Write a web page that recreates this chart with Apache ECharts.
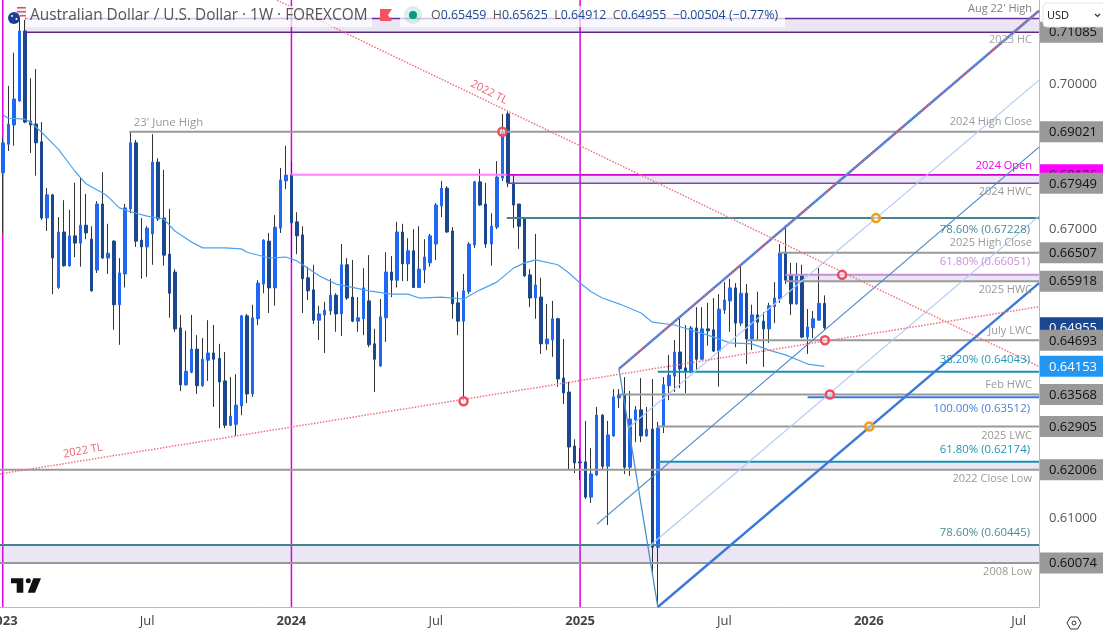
<!DOCTYPE html>
<html>
<head>
<meta charset="utf-8">
<title>AUD/USD weekly</title>
<script src="https://cdn.jsdelivr.net/npm/echarts@6/dist/echarts.min.js"></script>
<style>
  html, body { margin: 0; padding: 0; background: #fff; }
  #chart { width: 1103px; height: 631px; }
</style>
</head>
<body>
<div id="chart"></div>
<script>
// Weekly AUD/USD candles, one entry per week starting 2023-01-02.
const opens = [
  .6817,.6876,.6916,.6966,.7111,.6924,.6918,.6881,.6723,.6771,
  .6579,.6694,.6624,.6686,.6671,.6708,.6679,.6615,.6752,.6640,
  .6675,.6543,.6607,.6742,.6879,.6677,.6663,.6690,.6839,.6723,
  .6648,.6611,.6495,.6377,.6403,.6451,.6375,.6428,.6443,.6432,
  .6385,.6293,.6295,.6333,.6520,.6358,.6514,.6586,.6675,.6578,
  .6702,.6800,.6812,.6715,.6688,.6599,.6574,.6511,.6522,.6530,
  .6563,.6524,.6626,.6559,.6509,.6514,.6551,.6462,.6416,.6516,
  .6611,.6594,.6694,.6628,.6655,.6579,.6615,.6630,.6669,.6748,
  .6785,.6696,.6547,.6509,.6570,.6667,.6798,.6752,.6669,.6704,
  .6806,.6939,.6796,.6752,.6723,.6605,.6557,.6559,.6462,.6470,
  .6514,.6391,.6362,.6250,.6217,.6217,.6144,.6190,.6314,.6208,
  .6271,.6350,.6356,.6206,.6304,.6325,.6271,.6285,.6040,.6291,
  .6375,.6395,.6445,.6412,.6405,.6495,.6430,.6493,.6491,.6447,
  .6532,.6551,.6578,.6505,.6567,.6472,.6522,.6509,.6493,.6539,
  .6555,.6651,.6605,.6545,.6603,.6476,.6495,.6511,.65459
];
const closes = [
  .6879,.6918,.6970,.7111,.6922,.6916,.6879,.6723,.6771,.6640,
  .6694,.6624,.6686,.6671,.6708,.6692,.6572,.6752,.6640,.6650,
  .6543,.6609,.6744,.6879,.6675,.6663,.6702,.6839,.6721,.6646,
  .6567,.6493,.6377,.6405,.6451,.6375,.6430,.6443,.6430,.6383,
  .6293,.6312,.6335,.6520,.6358,.6516,.6588,.6677,.6578,.6704,
  .6802,.6812,.6713,.6686,.6597,.6572,.6511,.6524,.6532,.6563,
  .6524,.6626,.6557,.6509,.6516,.6578,.6460,.6430,.6518,.6611,
  .6594,.6694,.6628,.6655,.6579,.6617,.6642,.6686,.6750,.6785,
  .6694,.6545,.6509,.6572,.6669,.6798,.6750,.6669,.6706,.6808,
  .69021,.6796,.6750,.6706,.6603,.6557,.6584,.6462,.6472,.6514,
  .6389,.6360,.6248,.6215,.6215,.6144,.6192,.6314,.6208,.6273,
  .6352,.6356,.6206,.6306,.6325,.6271,.6285,.6040,.6287,.6377,
  .6397,.6445,.6410,.6405,.6495,.6430,.6493,.6489,.6447,.6534,
  .6553,.6578,.6505,.6567,.6472,.6522,.6507,.6493,.6541,.6557,
  .66507,.6594,.6545,.6603,.6476,.6497,.6514,.6546,.64955
];
const highs = [
  .6889,.6997,.7066,.7140,.7134,.7013,.7032,.6922,.6785,.6773,
  .6725,.6760,.6740,.6796,.6808,.6773,.6706,.6758,.6818,.6711,
  .6677,.6640,.6752,.6902,.6885,.6723,.6706,.6897,.6847,.6823,
  .6742,.6617,.6522,.6489,.6522,.6480,.6474,.6511,.6501,.6462,
  .6445,.6393,.6399,.6522,.6524,.6543,.6594,.6679,.6692,.6729,
  .6827,.6873,.6841,.6735,.6706,.6622,.6626,.6541,.6549,.6597,
  .6567,.6669,.6640,.6636,.6559,.6619,.6646,.6493,.6555,.6652,
  .6644,.6715,.6711,.6681,.6700,.6706,.6679,.6690,.6754,.6800,
  .6789,.6704,.6570,.6607,.6673,.6800,.6825,.6796,.6733,.6841,
  .6939,.6945,.6812,.6752,.6725,.6617,.6690,.6599,.6545,.6551,
  .6516,.6472,.6383,.6264,.6246,.6302,.6246,.6331,.6316,.6302,
  .6368,.6368,.6393,.6364,.6333,.6391,.6331,.6389,.6300,.6393,
  .6439,.6470,.6518,.6501,.6499,.6538,.6538,.6547,.6557,.6565,
  .6590,.6597,.6588,.6626,.6586,.6543,.6570,.6528,.6547,.6590,
  .6669,.6708,.6630,.6630,.6626,.6534,.6530,.6619,.65625
];
const lows = [
  .6692,.6862,.6873,.6964,.6920,.6858,.6811,.6719,.6696,.6565,
  .6576,.6622,.6622,.6642,.6622,.6679,.6570,.6609,.6638,.6607,
  .6491,.6460,.6579,.6733,.6663,.6597,.6601,.6626,.6717,.6624,
  .6516,.6487,.6364,.6375,.6401,.6358,.6373,.6385,.6331,.6287,
  .6287,.6291,.6271,.6314,.6339,.6352,.6501,.6567,.6526,.6541,
  .6692,.6783,.6630,.6648,.6526,.6553,.6503,.6470,.6443,.6522,
  .6487,.6478,.6553,.6507,.6487,.6480,.6455,.6362,.6414,.6466,
  .6559,.6579,.6592,.6592,.6578,.6578,.6588,.6622,.6636,.6725,
  .6692,.6514,.6480,.6345,.6565,.6661,.6748,.6661,.6624,.6700,
  .6800,.6787,.6702,.6659,.6601,.6538,.6514,.6441,.6449,.6435,
  .6373,.6337,.6202,.6194,.6179,.6140,.6132,.6188,.6200,.6086,
  .6269,.6329,.6192,.6188,.6258,.6258,.6269,.5986,.5917,.6277,
  .6345,.6362,.6370,.6360,.6401,.6408,.6428,.6458,.6445,.6373,
  .6524,.6487,.6455,.6499,.6420,.6449,.6470,.6414,.6464,.6505,
  .6547,.6586,.6522,.6543,.6474,.6441,.6474,.6511,.64912
];

// Moving average, sampled at the weeks where it changes direction.
const maWeeks = [0,1,4,5,7,10,13,15,18,19,21,23,26,29,31,34,36,40,43,44,48,51,53,57,60,63,66,70,73,75,79,83,86,89,92,94,96,100,102,104,106,108,111,115,116,117,121,127,131,135,138,141,145,148];
const maValues = [.6937,.6930,.6928,.6922,.6901,.6866,.6820,.6794,.6775,.6767,.6744,.6736,.6727,.6721,.6696,.6673,.6661,.6661,.6659,.6652,.6640,.6642,.6634,.6603,.6586,.6579,.6572,.6565,.6565,.6557,.6559,.6555,.6574,.6590,.6619,.6630,.6636,.6626,.6609,.6588,.6570,.6557,.6545,.6526,.6516,.6507,.6501,.6480,.6464,.6462,.6449,.6439,.6420,.64153];

// Horizontal price levels: price, first week, caption.
const levelPrices = [.7137,.71085,.69021,.68126,.67949,.67228,.66507,.66051,.65918,.64693,.64043,.63568,.63512,.62905,.62174,.62006,.60445,.60074];
const levelStarts = [4,4,22.8,90.8,90.8,90.8,139.9,141,141,134,118,111,145,118,118,-0.5,-0.5,-0.5];
const levelCaptions = ["Aug 22' High","2023 HC","2024 High Close","2024 Open","2024 HWC","78.60% (0.67228)","2025 High Close","61.80% (0.66051)","2025 HWC","July LWC","38.20% (0.64043)","Feb HWC","100.00% (0.63512)","2025 LWC","61.80% (0.62174)","2022 Close Low","78.60% (0.60445)","2008 Low"];

// Shaded zones between two levels: first week, upper price, lower price.
const zoneStarts = [4,90.8,141,118,-0.5];
const zoneTops = [.7137,.68126,.66051,.62174,.60445];
const zoneBottoms = [.71085,.67949,.65918,.62006,.60074];

// Right-hand price tags, painted in this order.
const tagPrices = [.71085,.69021,.68126,.67949,.66507,.65918,.64955,.64693,.64043,.64153,.63568,.62905,.62006,.60074];

// Calendar markers and axis labels.
const yearWeeks = [0,52,104];
const xTickWeeks = [0,26,52,78,104,130,156,183];
const xTickLabels = ['2023','Jul','2024','Jul','2025','Jul','2026','Jul'];
const yTicks = [.60,.61,.62,.63,.64,.65,.66,.67,.68,.69,.70,.71];

// Trend lines and the pitchfork, each as two [week, price] anchors.
const tlFalling = [[49.4,.7175],[186.67,.6415]];
const tlRising = [[-0.5,.6192],[186.67,.6539]];
const forkUpper = [[111,.6410],[186.67,.7153]];
const forkHandle = [[111,.6410],[118,.5916]];
const forkLower = [[118,.5916],[186.67,.6588]];
const forkMedian = [[107.05,.6088],[186.67,.6870]];
const forkQuarterA = [[112.63,.6287],[186.67,.7009]];
const forkQuarterB = [[116.24,.6040],[186.67,.6727]];

// Touch points marked with rings.
const redRings = [[90,.69021],[83,.6343],[148.1,.64693],[151.2,.66051],[149,.63568]];
const orangeRings = [[157.3,.67228],[156.1,.62905]];

// Captions written along the two trend lines.
const tlCaptionText = '2022 TL';
const tlCaptionAnchors = [[87.6,.6984],[14.45,.6240]];

const X_MIN = -0.5, X_MAX = 186.67, Y_MIN = 0.5916, Y_MAX = 0.71753;
const FONT = '"Open Sans", sans-serif';
const UP = '#2067f4', DOWN = '#1b478e', WICK = '#333333', GREY = '#999999';
const TEAL = '#47828f', AQUA = '#1a8fb3', FORK = '#3b78d8', LAV = '#c48fd8', HOT = '#d000d0';

// Per-level appearance, in the same order as levelPrices.
const levelLineColors = ['#6a2f9a','#5e2a8a',GREY,HOT,'#7c4d9c',TEAL,GREY,LAV,GREY,GREY,AQUA,GREY,FORK,GREY,AQUA,GREY,TEAL,GREY];
const levelLineWidths = [1.5,1.5,2,1.6,1.5,2,2,2,2,2,2,2,2,2,2,2,2,2];
const captionColors = ['#808080','#a6a6a6','#999999','#f000f0','#999999','#4a8a99','#999999','#c991d9','#999999','#999999','#2296b6','#999999','#4a80d8','#999999','#2296b6','#999999','#4a8a99','#999999'];
const captionOffsets = [-9.5,8,-9.7,-9,9,12,-9.7,-13.5,9,-9,-11.6,-9.5,12,9.5,-12,9,-12,9];

function tagLook(price) {
  if (price === .64955) return { bg: DOWN, fg: '#ffffff' };
  if (price === .64153) return { bg: '#2196f3', fg: '#ffffff' };
  if (price === .68126) return { bg: '#ff00ff', fg: '#333333' };
  if (price === .64043) return { bg: '#ffffff', fg: '#555555' };
  return { bg: GREY, fg: '#111111' };
}

function plainLine(name, data, color, width, z, type) {
  return {
    name, type: 'line', data, z, silent: true, animation: false, symbol: 'none',
    lineStyle: { color, width, type: type || 'solid', cap: 'butt' }
  };
}

const candleRows = opens.map((o, i) => [i, o, closes[i], lows[i], highs[i]]);
const bodyRows = opens.map((o, i) => [i, o, closes[i], Math.min(o, closes[i]), Math.max(o, closes[i])]);

const series = [];

// Year separators sit behind everything else.
yearWeeks.forEach(w => series.push(plainLine('year', [[w, Y_MIN], [w, Y_MAX]], '#e000e0', 1.5, 1)));

// Shaded zones between paired levels.
series.push({
  type: 'custom', z: 2, silent: true, animation: false,
  data: zoneStarts.map((s, i) => [s, zoneTops[i], zoneBottoms[i]]),
  encode: { x: 0, y: [1, 2] },
  renderItem(params, api) {
    const a = api.coord([api.value(0), api.value(1)]);
    const b = api.coord([X_MAX, api.value(2)]);
    return { type: 'rect', shape: { x: a[0], y: a[1], width: b[0] - a[0], height: b[1] - a[1] },
      style: { fill: 'rgba(103,58,183,0.13)' } };
  }
});

// Wicks first, then solid bodies on top so the two can carry different colours.
series.push({
  type: 'candlestick', z: 3, silent: true, animation: false, barWidth: 1,
  data: candleRows, encode: { x: 0, y: [1, 2, 3, 4] },
  itemStyle: { color: WICK, color0: WICK, borderColor: WICK, borderColor0: WICK, borderWidth: 1 }
});
series.push({
  type: 'candlestick', z: 4, silent: true, animation: false, barWidth: 3,
  data: bodyRows, encode: { x: 0, y: [1, 2, 3, 4] },
  itemStyle: { color: UP, color0: DOWN, borderColor: UP, borderColor0: DOWN, borderWidth: 1 }
});

// Moving average.
series.push(plainLine('ma', maWeeks.map((w, i) => [w, maValues[i]]), '#4aa3f0', 1.2, 5));

// Horizontal levels; the 2024 open also has a pale stretch back to the start of the year.
series.push(plainLine('open24', [[52, .68126], [90.8, .68126]], '#ff80ff', 2, 6));
levelPrices.forEach((p, i) => {
  series.push(plainLine('level', [[levelStarts[i], p], [X_MAX, p]], levelLineColors[i], levelLineWidths[i], 6));
});

// Pitchfork.
series.push(plainLine('quarterA', forkQuarterA, '#b0ccf5', 1.2, 7));
series.push(plainLine('quarterB', forkQuarterB, '#b0ccf5', 1.2, 7));
series.push(plainLine('median', forkMedian, '#4a86c5', 1.2, 7));
series.push(plainLine('handle', forkHandle, '#4a90c8', 1.3, 7));
series.push(plainLine('upper', forkUpper, FORK, 2.4, 7));
series.push(plainLine('lower', forkLower, FORK, 2.4, 7));

// Trend lines, dotted.
const DOT = '#f2707e';
series.push(plainLine('tlFalling', tlFalling, DOT, 1.5, 8, 'dotted'));
series.push(plainLine('tlRising', tlRising, DOT, 1.5, 8, 'dotted'));
series.push(plainLine('tlUpper', forkUpper, DOT, 1.4, 8, 'dotted'));

// Rings on the touch points.
[[redRings, '#ee4d5f'], [orangeRings, '#f39c12']].forEach(([pts, color]) => {
  series.push({
    type: 'scatter', z: 9, silent: true, animation: false, data: pts, symbolSize: 8,
    itemStyle: { color: 'rgba(255,255,255,0.45)', borderColor: color, borderWidth: 2.5, opacity: 1 }
  });
});

// Captions above and below the levels.
series.push({
  type: 'custom', z: 10, silent: true, animation: false,
  data: levelPrices.map(p => [X_MAX, p]),
  encode: { x: 0, y: 1 },
  renderItem(params, api) {
    const i = params.dataIndex;
    const c = api.coord([api.value(0), api.value(1)]);
    const isFib = levelCaptions[i].indexOf('%') > 0;
    return { type: 'text', style: {
      x: c[0] - (isFib ? 9 : 7), y: c[1] + captionOffsets[i], text: levelCaptions[i],
      fill: captionColors[i], font: (isFib ? '11.4px ' : '11px ') + FONT,
      align: 'right', verticalAlign: 'middle', textAlign: 'right', textVerticalAlign: 'middle'
    } };
  }
});
series.push({
  type: 'custom', z: 10, silent: true, animation: false,
  data: [[22.8, .69021]], encode: { x: 0, y: 1 },
  renderItem(params, api) {
    const c = api.coord([api.value(0), api.value(1)]);
    return { type: 'text', style: {
      x: c[0] + 4.5, y: c[1] - 9, text: "23' June High", fill: '#999999', font: '11.4px ' + FONT,
      align: 'left', verticalAlign: 'middle', textAlign: 'left', textVerticalAlign: 'middle'
    } };
  }
});

// Trend line captions, tilted along their lines.
series.push({
  type: 'custom', z: 10, silent: true, animation: false,
  data: tlCaptionAnchors, encode: { x: 0, y: 1 },
  renderItem(params, api) {
    const c = api.coord([api.value(0), api.value(1)]);
    const tilt = params.dataIndex === 0 ? -27 : 10;
    return { type: 'text', x: c[0], y: c[1], rotation: tilt * Math.PI / 180, style: {
      x: 0, y: 0, text: tlCaptionText, fill: '#f0606f', font: '11px ' + FONT,
      align: 'center', verticalAlign: 'middle', textAlign: 'center', textVerticalAlign: 'middle'
    } };
  }
});

// Price tags over the right-hand axis.
series.push({
  type: 'custom', z: 11, silent: true, animation: false,
  data: tagPrices.map(p => [X_MAX, p]),
  encode: { x: 0, y: 1 },
  renderItem(params, api) {
    const price = tagPrices[params.dataIndex];
    const c = api.coord([api.value(0), api.value(1)]);
    const look = tagLook(price);
    return { type: 'group', children: [
      { type: 'rect', shape: { x: c[0] + 1, y: c[1] - 10.5, width: 64, height: 21 }, style: { fill: look.bg } },
      { type: 'text', style: { x: c[0] + 10, y: c[1] + 0.5, text: price.toFixed(5), fill: look.fg,
        font: '13px ' + FONT, align: 'left', verticalAlign: 'middle', textAlign: 'left', textVerticalAlign: 'middle' } }
    ] };
  }
});

const legendText = '{g|O}{v|0.65459}  {g|H}{v|0.65625}  {g|L}{v|0.64912}  {g|C}{v|0.64955}  {v|\u22120.00504 (\u22120.77%)}';

const option = {
  backgroundColor: '#ffffff',
  animation: false,
  grid: { left: 0, top: 0, width: 1039, height: 607, containLabel: false, outerBoundsMode: 'none' },
  xAxis: {
    type: 'value', min: X_MIN, max: X_MAX, splitLine: { show: false },
    axisLine: { onZero: false, lineStyle: { color: '#b8b8b8', width: 1 } },
    axisTick: { show: false },
    axisLabel: {
      customValues: xTickWeeks, margin: 8, color: '#444444', fontFamily: FONT, fontSize: 13,
      formatter(v) {
        const t = xTickLabels[xTickWeeks.indexOf(v)];
        return /^\d+$/.test(t) ? '{y|' + t + '}' : t;
      },
      rich: { y: { fontFamily: FONT, fontSize: 13, fontWeight: 'bold', color: '#444444' } }
    }
  },
  yAxis: {
    type: 'value', position: 'right', min: Y_MIN, max: Y_MAX, splitLine: { show: false },
    axisLine: { show: true, onZero: false, lineStyle: { color: '#b8b8b8', width: 1 } },
    axisTick: { show: false },
    axisLabel: {
      customValues: yTicks, margin: 10, color: '#555555', fontFamily: FONT, fontSize: 13,
      formatter: v => v.toFixed(5)
    }
  },
  series,
  graphic: { elements: [
    // Symbol heading.
    { type: 'rect', z: 50, shape: { x: 26, y: 6, width: 346, height: 21 }, style: { fill: 'rgba(255,255,255,0.7)' } },
    { type: 'rect', z: 50, shape: { x: 400, y: 6, width: 385, height: 21 }, style: { fill: 'rgba(255,255,255,0.7)' } },
    { type: 'text', z: 51, x: 30, y: 15.5, style: { text: 'Australian Dollar / U.S. Dollar \u00b7 1W \u00b7 FOREXCOM',
      font: '15.4px ' + FONT, fill: '#555555', verticalAlign: 'middle', textVerticalAlign: 'middle' } },
    { type: 'text', z: 51, x: 431, y: 15.5, style: { text: legendText, font: '12.4px ' + FONT, verticalAlign: 'middle', textVerticalAlign: 'middle',
      rich: { g: { fill: '#555555', color: '#555555', font: '12.4px ' + FONT }, v: { fill: DOWN, color: DOWN, font: '12.4px ' + FONT } } } },
    // Pair flags.
    { type: 'circle', z: 52, shape: { cx: 21, cy: 11.5, r: 5.5 }, style: { fill: '#f0f0f5' } },
    { type: 'rect', z: 53, shape: { x: 17, y: 7, width: 9, height: 1.5 }, style: { fill: '#ee4d5f' } },
    { type: 'rect', z: 53, shape: { x: 17, y: 11, width: 9, height: 1.5 }, style: { fill: '#ee4d5f' } },
    { type: 'rect', z: 53, shape: { x: 20, y: 15, width: 6, height: 1.5 }, style: { fill: '#ee4d5f' } },
    { type: 'circle', z: 54, shape: { cx: 14, cy: 18, r: 6 }, style: { fill: '#1c3f94' } },
    { type: 'circle', z: 55, shape: { cx: 12, cy: 16, r: 1 }, style: { fill: '#ffffff' } },
    { type: 'circle', z: 55, shape: { cx: 16.5, cy: 19, r: 1 }, style: { fill: '#ffffff' } },
    // Alert flag and market-status dot.
    { type: 'polygon', z: 52, shape: { points: [[380,9],[392,9],[388,15],[392,21],[380,21]] }, style: { fill: '#f7525f' } },
    { type: 'circle', z: 52, shape: { cx: 413, cy: 15, r: 9 }, style: { fill: 'rgba(8,153,129,0.15)' } },
    { type: 'circle', z: 53, shape: { cx: 413, cy: 15, r: 4 }, style: { fill: '#089981' } },
    // Vendor mark.
    { type: 'polygon', z: 52, shape: { points: [[11,578.3],[23.3,578.3],[23.3,592.7],[16.7,592.7],[16.7,583.3],[11,583.3]] }, style: { fill: '#111111' } },
    { type: 'circle', z: 52, shape: { cx: 28.3, cy: 580.7, r: 2.5 }, style: { fill: '#111111' } },
    { type: 'polygon', z: 52, shape: { points: [[33.3,578.3],[41,578.3],[35,592.7],[27.7,592.7]] }, style: { fill: '#111111' } },
    // Currency selector.
    { type: 'rect', z: 60, shape: { x: 1043, y: 3, width: 64, height: 24, r: 4 }, style: { fill: '#ffffff', stroke: '#e0e3eb', lineWidth: 1 } },
    { type: 'text', z: 61, x: 1047, y: 15.5, style: { text: 'USD', font: '11px ' + FONT, fill: '#111111', verticalAlign: 'middle', textVerticalAlign: 'middle' } },
    { type: 'polyline', z: 61, shape: { points: [[1095,14],[1097.5,16.5],[1100,14]] }, style: { stroke: '#333333', lineWidth: 1.2, fill: 'none' } },
    // Settings glyph.
    { type: 'polygon', z: 60, shape: { points: [[1067,623],[1070.5,617],[1077.5,617],[1081,623],[1077.5,629],[1070.5,629]] }, style: { stroke: '#333333', lineWidth: 1, fill: 'none' } },
    { type: 'circle', z: 60, shape: { cx: 1074, cy: 623, r: 2 }, style: { stroke: '#333333', lineWidth: 1, fill: 'none' } }
  ] }
};

echarts.init(document.getElementById('chart'), null, { renderer: 'canvas' }).setOption(option);
</script>
</body>
</html>
